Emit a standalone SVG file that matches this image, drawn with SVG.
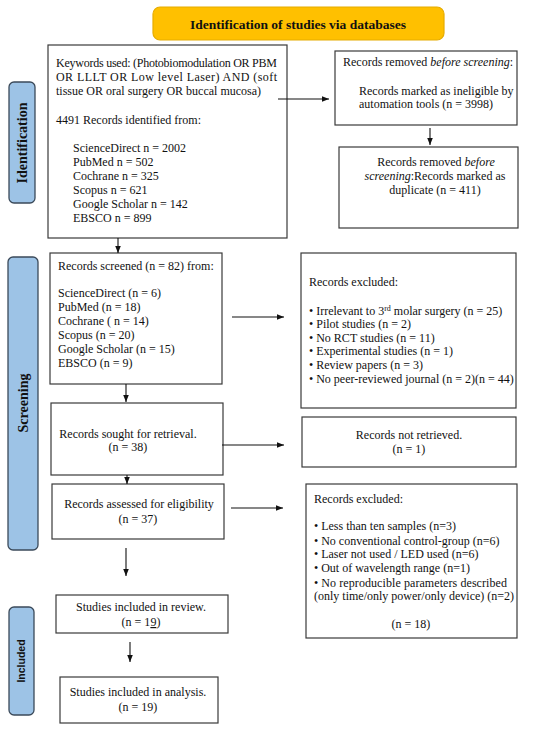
<svg xmlns="http://www.w3.org/2000/svg" width="550" height="731" viewBox="0 0 550 731">
<style>
.box{fill:#fff;stroke:#3a3a3a;stroke-width:1.2}
.t{font-family:"Liberation Serif","Times New Roman",serif;font-size:12px;fill:#111}
.c{text-anchor:middle}
.side{fill:#9DC3E6;stroke:#3b4a5a;stroke-width:1.3}
.sl{font-family:"Liberation Serif","Times New Roman",serif;font-weight:bold;font-size:14px;fill:#111;text-anchor:middle}
.conn line{stroke:#111;stroke-width:1.1;fill:none}
</style>
<defs>
<marker id="ah" viewBox="0 0 10 10" refX="10" refY="5" markerWidth="7" markerHeight="7" markerUnits="userSpaceOnUse" orient="auto">
<path d="M0,1 L10,5 L0,9 Z" fill="#111"/>
</marker>
</defs>
<rect width="550" height="731" fill="#fff"/>

<g id="title">
<rect x="153" y="7" width="291" height="33" rx="7" fill="#FFC000" stroke="#E6AC00" stroke-width="1.2"/>
<text x="298" y="28.5" class="t c" style="font-weight:bold;font-size:13.5px">Identification of studies via databases</text>
</g>

<g id="label-identification">
<rect x="9" y="82" width="26" height="121" rx="5" class="side"/>
<text transform="translate(26.5,143) rotate(-90)" class="sl">Identification</text>
</g>
<g id="label-screening">
<rect x="8" y="257" width="30" height="293" rx="5" class="side"/>
<text transform="translate(28,403) rotate(-90)" class="sl">Screening</text>
</g>
<g id="label-included">
<rect x="9" y="607" width="25" height="108" rx="5" class="side"/>
<text transform="translate(25,661) rotate(-90)" style="font-family:'Liberation Sans',Arial,sans-serif;font-weight:bold;font-size:10.5px;text-anchor:middle;fill:#111">Included</text>
</g>

<g id="records-identified">
<rect x="48" y="45" width="239" height="193" class="box"/>
<text class="t" x="56" y="67" textLength="221" lengthAdjust="spacing">Keywords used: (Photobiomodulation OR PBM</text>
<text class="t" x="56" y="81" textLength="221" lengthAdjust="spacing">OR LLLT OR Low level Laser) AND (soft</text>
<text class="t" x="56" y="95">tissue OR oral surgery OR buccal mucosa)</text>
<text class="t" x="56" y="124">4491 Records identified from:</text>
<text class="t" x="73" y="152">ScienceDirect n = 2002</text>
<text class="t" x="73" y="166">PubMed n = 502</text>
<text class="t" x="73" y="180">Cochrane n = 325</text>
<text class="t" x="73" y="194">Scopus n = 621</text>
<text class="t" x="73" y="208">Google Scholar n = 142</text>
<text class="t" x="73" y="222">EBSCO n = 899</text>
</g>

<g id="removed-ineligible">
<rect x="335" y="51" width="182" height="74" class="box"/>
<text class="t" x="343" y="66">Records removed <tspan font-style="italic">before screening</tspan>:</text>
<text class="t" x="359" y="95">Records marked as ineligible by</text>
<text class="t" x="359" y="108">automation tools (n = 3998)</text>
</g>

<g id="removed-duplicate">
<rect x="339" y="147" width="179" height="81" class="box"/>
<text class="t c" x="436" y="166">Records removed <tspan font-style="italic">before</tspan></text>
<text class="t c" x="435" y="180"><tspan font-style="italic">screening</tspan>:Records marked as</text>
<text class="t c" x="435" y="194">duplicate (n = 411)</text>
</g>

<g id="records-screened">
<rect x="50" y="253" width="172" height="131" class="box"/>
<text class="t" x="58" y="270">Records screened (n = 82) from:</text>
<text class="t" x="58" y="297">ScienceDirect (n = 6)</text>
<text class="t" x="58" y="311">PubMed (n = 18)</text>
<text class="t" x="58" y="325">Cochrane ( n = 14)</text>
<text class="t" x="58" y="339">Scopus (n = 20)</text>
<text class="t" x="58" y="353">Google Scholar  (n = 15)</text>
<text class="t" x="58" y="367">EBSCO (n = 9)</text>
</g>

<g id="excluded-screening">
<rect x="301" y="253" width="215" height="155" class="box"/>
<text class="t" x="309" y="286">Records excluded:</text>
<text class="t" x="309" y="315">• Irrelevant to 3<tspan font-size="8" dy="-4">rd</tspan><tspan dy="4"> molar surgery (n = 25)</tspan></text>
<text class="t" x="309" y="328">• Pilot studies (n = 2)</text>
<text class="t" x="309" y="342">• No RCT studies (n = 11)</text>
<text class="t" x="309" y="355">• Experimental studies (n = 1)</text>
<text class="t" x="309" y="369">• Review papers (n = 3)</text>
<text class="t" x="309" y="383">• No peer-reviewed journal (n = 2)(n = 44)</text>
</g>

<g id="sought-retrieval">
<rect x="51" y="403" width="172" height="72" class="box"/>
<text class="t c" x="128" y="438">Records sought for retrieval.</text>
<text class="t c" x="128" y="451">(n = 38)</text>
</g>

<g id="not-retrieved">
<rect x="302" y="417" width="214" height="50" class="box"/>
<text class="t c" x="409" y="439">Records not retrieved.</text>
<text class="t c" x="409" y="453">(n = 1)</text>
</g>

<g id="assessed-eligibility">
<rect x="52" y="484" width="172" height="55" class="box"/>
<text class="t c" x="139" y="508">Records assessed for eligibility</text>
<text class="t c" x="138" y="523">(n = 37)</text>
</g>

<g id="excluded-eligibility">
<rect x="306" y="484" width="211" height="154" class="box"/>
<text class="t" x="314" y="503">Records excluded:</text>
<text class="t" x="314" y="530">• Less than ten samples (n=3)</text>
<text class="t" x="314" y="545">• No conventional control-group (n=6)</text>
<text class="t" x="314" y="558">• Laser not used / LED used (n=6)</text>
<text class="t" x="314" y="572">• Out of wavelength range (n=1)</text>
<text class="t" x="314" y="587" textLength="193" lengthAdjust="spacing">• No reproducible parameters described</text>
<text class="t" x="314" y="600">(only time/only power/only device) (n=2)</text>
<text class="t c" x="411" y="628">(n = 18)</text>
</g>

<g id="included-review">
<rect x="56" y="595" width="172" height="38" class="box"/>
<text class="t c" x="141" y="611">Studies included in review.</text>
<text class="t c" x="141" y="626">(n = 1<tspan text-decoration="underline">9</tspan>)</text>
</g>

<g id="included-analysis">
<rect x="60" y="677" width="158" height="46" class="box"/>
<text class="t c" x="138" y="696">Studies included in analysis.</text>
<text class="t c" x="138" y="711">(n = 19)</text>
</g>

<g id="connectors" class="conn">
<line x1="278" y1="99" x2="329" y2="99" marker-end="url(#ah)"/>
<line x1="430" y1="128" x2="430" y2="145" marker-end="url(#ah)"/>
<line x1="118" y1="238" x2="118" y2="253" marker-end="url(#ah)"/>
<line x1="232" y1="317" x2="284" y2="317" marker-end="url(#ah)"/>
<line x1="126" y1="384" x2="126" y2="402" marker-end="url(#ah)"/>
<line x1="222" y1="445" x2="284" y2="445" marker-end="url(#ah)"/>
<line x1="127" y1="475" x2="127" y2="484" marker-end="url(#ah)"/>
<line x1="231" y1="508" x2="283" y2="508" marker-end="url(#ah)"/>
<line x1="126" y1="548" x2="126" y2="576" marker-end="url(#ah)"/>
<line x1="130" y1="642" x2="130" y2="662" marker-end="url(#ah)"/>
</g>
</svg>
